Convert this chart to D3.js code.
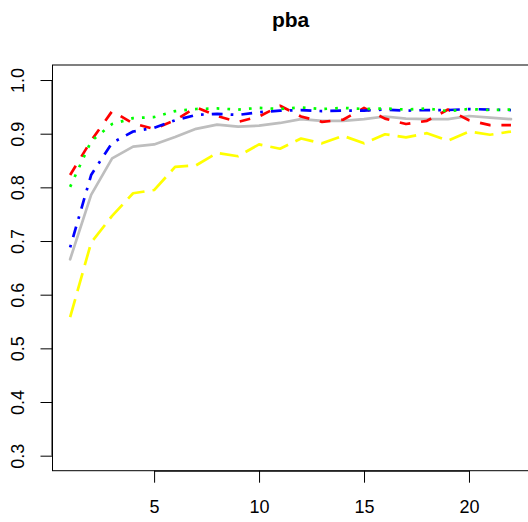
<!DOCTYPE html>
<html>
<head>
<meta charset="utf-8">
<script src="https://cdn.jsdelivr.net/npm/d3@7"></script>
<style>
  body { margin: 0; background: #fff; }
  svg { display: block; font-family: "Liberation Sans", Arial, sans-serif; }
</style>
</head>
<body>
<div id="chart"></div>
<script>
// x positions (index) and the five series
const steps = [1, 2, 3, 4, 5, 6, 7, 8, 9, 10, 11, 12, 13, 14, 15, 16, 17, 18, 19, 20, 21, 22];
const graySeries = [0.666, 0.786, 0.854, 0.876, 0.880, 0.894, 0.909, 0.917, 0.913, 0.915, 0.920,
                    0.927, 0.924, 0.924, 0.927, 0.932, 0.928, 0.927, 0.927, 0.933, 0.930, 0.927];
const yellowSeries = [0.558, 0.697, 0.747, 0.789, 0.795, 0.838, 0.841, 0.864, 0.858, 0.880, 0.872,
                      0.891, 0.882, 0.896, 0.882, 0.899, 0.893, 0.901, 0.887, 0.904, 0.898, 0.904];
const redSeries = [0.823, 0.887, 0.942, 0.919, 0.909, 0.925, 0.949, 0.933, 0.922, 0.932, 0.952,
                   0.932, 0.922, 0.926, 0.948, 0.928, 0.918, 0.924, 0.945, 0.925, 0.916, 0.916];
const blueSeries = [0.688, 0.823, 0.883, 0.904, 0.911, 0.925, 0.935, 0.937, 0.935, 0.940, 0.943,
                    0.944, 0.942, 0.943, 0.943, 0.945, 0.943, 0.944, 0.944, 0.946, 0.945, 0.944];
const greenSeries = [0.801, 0.886, 0.918, 0.929, 0.931, 0.942, 0.946, 0.947, 0.945, 0.948, 0.946,
                     0.949, 0.946, 0.948, 0.946, 0.947, 0.945, 0.947, 0.942, 0.946, 0.944, 0.945];
const xTicks = [5, 10, 15, 20];
const yTicks = [0.3, 0.4, 0.5, 0.6, 0.7, 0.8, 0.9, 1.0];
const chartTitle = "pba";

const W = 528, H = 522;
const lw = 2.7;

const series = [
    { values: graySeries, color: "#bebebe", dash: null },
    { values: yellowSeries, color: "#ffff00", dash: [7, 3] },
    { values: redSeries, color: "#ff0000", dash: [4, 4] },
    { values: blueSeries, color: "#0000ff", dash: [1, 3, 4, 3] },
    { values: greenSeries, color: "#00ff00", dash: [1, 3] }
];

const svg = d3.select("#chart").append("svg")
    .attr("width", W)
    .attr("height", H);

// R style ranges: data range padded by 4% each side
const x = d3.scaleLinear().domain([0.16, 22.84]).range([52.5, 528.6]);
const y = d3.scaleLinear().domain([0.272, 1.028]).range([470.7, 65]);

// title
svg.append("text")
    .attr("x", (52.5 + 528.6) / 2)
    .attr("y", 27)
    .attr("text-anchor", "middle")
    .style("font-size", "21px")
    .style("font-weight", "bold")
    .text(chartTitle);

// lines
const line = d3.line()
    .x((d, i) => x(steps[i]))
    .y(d => y(d));

series.forEach(s => {
    svg.append("path")
        .datum(s.values)
        .attr("d", line)
        .attr("fill", "none")
        .attr("stroke", s.color)
        .attr("stroke-width", lw)
        .attr("stroke-linejoin", "round")
        .attr("stroke-linecap", s.dash ? "butt" : "round")
        .attr("stroke-dasharray", s.dash ? s.dash.map(v => v * lw).join(",") : null);
});

// box
svg.append("rect")
    .attr("x", 52.5)
    .attr("y", 65)
    .attr("width", 528.6 - 52.5)
    .attr("height", 470.7 - 65)
    .attr("fill", "none")
    .attr("stroke", "#000")
    .attr("stroke-width", 1);

// x axis
const xAxis = svg.append("g")
    .attr("transform", "translate(0,470.7)")
    .call(d3.axisBottom(x).tickValues(xTicks).tickSize(12).tickFormat(d3.format("d")));
xAxis.select(".domain").attr("d", `M${x(5)},0.5H${x(20)}`);
xAxis.selectAll("text")
    .attr("y", 42)
    .attr("dy", 0)
    .style("font-size", "18px")
    .style("font-family", "Liberation Sans, Arial, sans-serif");

// y axis
const yAxis = svg.append("g")
    .attr("transform", "translate(52.5,0)")
    .call(d3.axisLeft(y).tickValues(yTicks).tickSize(12).tickFormat(d3.format(".1f")));
yAxis.select(".domain").attr("d", `M-0.5,${y(0.3)}V${y(1.0)}`);
yAxis.selectAll("text")
    .attr("x", 0)
    .attr("dy", 0)
    .attr("text-anchor", "middle")
    .attr("transform", "translate(-28.5,0) rotate(-90)")
    .style("font-size", "18px")
    .style("font-family", "Liberation Sans, Arial, sans-serif");
</script>
</body>
</html>
